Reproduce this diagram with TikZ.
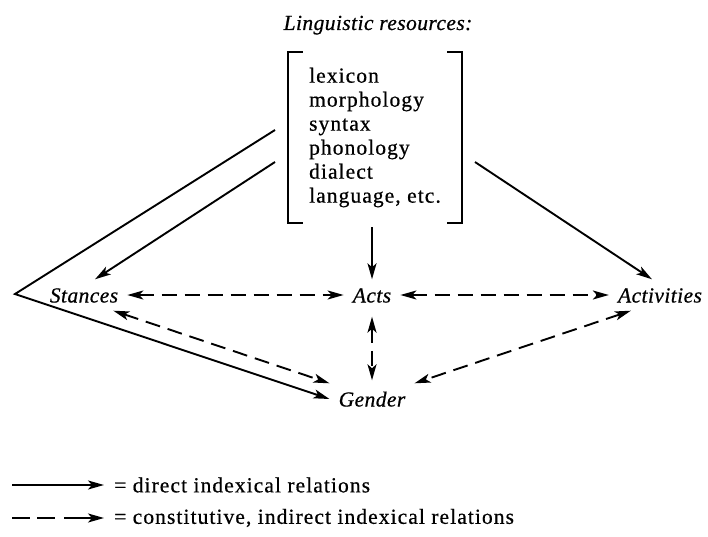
\documentclass[tikz,border=0pt]{standalone}
\usepackage{fontspec}
\setmainfont{Liberation Serif}[LetterSpace=5, FakeBold=0.6, ItalicFeatures={LetterSpace=2, FakeBold=0.6}]
\usetikzlibrary{arrows.meta}
\begin{document}
\begin{tikzpicture}[x=1pt,y=-1pt,
  lbl/.style={font=\fontsize{21.5}{24}\selectfont\itshape, inner xsep=9pt, inner ysep=8pt, text height=15pt, text depth=0pt},
  ttl/.style={font=\fontsize{21.5}{24}\selectfont\itshape, inner sep=0pt},
  txt/.style={font=\fontsize{21.5}{24}\selectfont},
  brk/.style={line width=2pt},
  solidarrow/.style={line width=1.9pt, -{Stealth[length=16pt,width=9pt,inset=4pt]}},
  dasharrow/.style={line width=1.9pt, dash pattern=on 15pt off 8pt, {Stealth[length=16pt,width=9pt,inset=4pt]}-{Stealth[length=16pt,width=9pt,inset=4pt]}},
  legdash/.style={line width=1.9pt, dash pattern=on 18pt off 7pt on 18pt off 9pt on 60pt, -{Stealth[length=16pt,width=9pt,inset=4pt]}}
]
\useasboundingbox (0,0) rectangle (708,537);

% title and resource list
\node[ttl, anchor=base] (title) at (378,30) {Linguistic resources:};
\node[txt, align=left, minimum width=174pt, minimum height=171pt, inner sep=0pt] (res) at (375,137.5)
  {lexicon\\morphology\\syntax\\phonology\\dialect\\language, etc.};
\draw[brk] ([xshift=15pt]res.north west) -- (res.north west) -- (res.south west) -- ([xshift=15pt]res.south west);
\draw[brk] ([xshift=-15pt]res.north east) -- (res.north east) -- (res.south east) -- ([xshift=-15pt]res.south east);

% labels
\node[lbl] (stances) at (84,295) {Stances};
\node[lbl] (acts) at (372,295) {Acts};
\node[lbl] (activities) at (660,295) {Activities};
\node[lbl] (gender) at (372,399) {Gender};

% free ends
\coordinate (v) at (15,294);
\coordinate (c1) at (275,130);
\coordinate (c2) at (275,162);
\coordinate (c3) at (372,227);
\coordinate (c4) at (475,162);

% direct relations
\draw[solidarrow] (c1) -- (v) -- (gender.west);
\draw[solidarrow] (c2) -- ([xshift=11pt]stances.north);
\draw[solidarrow] (c3) -- (acts.north);
\draw[solidarrow] (c4) -- ([xshift=-8pt]activities.north);

% indirect relations
\draw[dasharrow] (stances.east) -- (acts.west);
\draw[dasharrow] (acts.east) -- (activities.west);
\draw[dasharrow, shorten <=6pt, shorten >=3pt] (acts.south) -- (gender.north);
\draw[dasharrow] ([xshift=-14pt]stances.south east) -- (gender.north west);
\draw[dasharrow] ([xshift=22pt]activities.south west) -- (gender.north east);

% legend
\coordinate (l1) at (12,485);
\node[txt, anchor=west, inner xsep=10pt] (leg1) at (104,485) {= direct indexical relations};
\draw[solidarrow] (l1) -- (leg1.west);
\coordinate (l2) at (12,518);
\node[txt, anchor=west, inner xsep=10pt] (leg2) at (104,518) {= constitutive, indirect indexical relations};
\draw[legdash] (l2) -- (leg2.west);
\end{tikzpicture}
\end{document}
